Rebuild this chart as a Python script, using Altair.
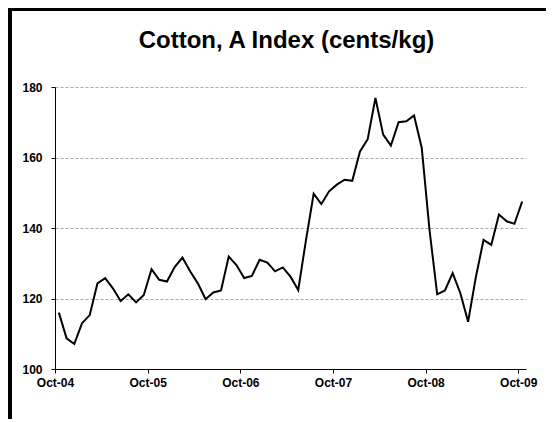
import json
import altair as alt
import pandas as pd

# Monthly Cotton A Index, Oct-04 .. Oct-09 (cents/kg)
values = [
    116.0, 108.7, 107.1, 113.0, 115.3, 124.3, 125.8, 122.9, 119.3, 121.2, 118.9, 121.0,
    128.3, 125.3, 124.8, 128.9, 131.6, 127.7, 124.3, 119.8, 121.7, 122.3, 131.9, 129.5,
    125.8, 126.4, 131.0, 130.2, 127.7, 128.8, 126.2, 122.4, 136.5, 149.7, 146.8, 150.4,
    152.3, 153.7, 153.4, 161.7, 165.2, 176.9, 166.5, 163.4, 170.0, 170.3, 171.9, 162.7,
    139.5, 121.2, 122.3, 127.2, 121.5, 113.4, 126.0, 136.6, 135.2, 143.8, 141.9, 141.2,
    147.5,
]
x_labels = ["Oct-04", "Oct-05", "Oct-06", "Oct-07", "Oct-08", "Oct-09"]
y_ticks = [100, 120, 140, 160, 180]

FONT = "Liberation Sans"

df = pd.DataFrame({
    "month": [i + 0.5 for i in range(len(values))],
    "value": values,
})
x_tick_vals = [12 * k for k in range(len(x_labels))]
label_expr = json.dumps(x_labels) + "[round(datum.value / 12)]"

line = alt.Chart(df).mark_line(color="black", strokeWidth=2).encode(
    x=alt.X("month:Q",
            scale=alt.Scale(domain=[0, len(values)], nice=False, zero=False),
            axis=alt.Axis(values=x_tick_vals, labelExpr=label_expr, grid=False,
                          title=None, tickSize=4, labelPadding=4, labelFlush=False,
                          labelFont=FONT, labelFontSize=12, labelFontWeight="bold",
                          labelColor="black", domainColor="black", tickColor="black")),
    y=alt.Y("value:Q",
            scale=alt.Scale(domain=[100, 180], nice=False, zero=False),
            axis=alt.Axis(values=y_ticks, grid=True, gridColor="#a8a8a8",
                          gridDash=[3, 2], gridWidth=1, title=None, tickSize=4,
                          labelPadding=9, labelFlush=False, labelFont=FONT,
                          labelFontSize=12, labelFontWeight="bold", labelColor="black",
                          domainColor="black", tickColor="black")),
)

one = pd.DataFrame({"a": [0]})
left_bar = alt.Chart(one).mark_rule(color="black", strokeWidth=4).encode(
    x=alt.value(-45), y=alt.value(-80), y2=alt.value(400))
top_bar = alt.Chart(one).mark_rule(color="black", strokeWidth=4).encode(
    x=alt.value(-47), x2=alt.value(520), y=alt.value(-78))

chart = alt.layer(left_bar, top_bar, line).properties(
    width=471,
    height=282,
    title=alt.TitleParams("Cotton, A Index (cents/kg)", font=FONT, fontSize=24,
                          fontWeight="bold", color="black", anchor="middle",
                          frame="group", baseline="alphabetic",
                          dx=-4, offset=-67),
    autosize=alt.AutoSizeParams(type="none"),
    padding={"left": 47, "top": 79, "right": 20, "bottom": 50},
).configure_view(strokeWidth=0)

chart.save("out.html", embed_options={"renderer": "svg", "actions": False})
